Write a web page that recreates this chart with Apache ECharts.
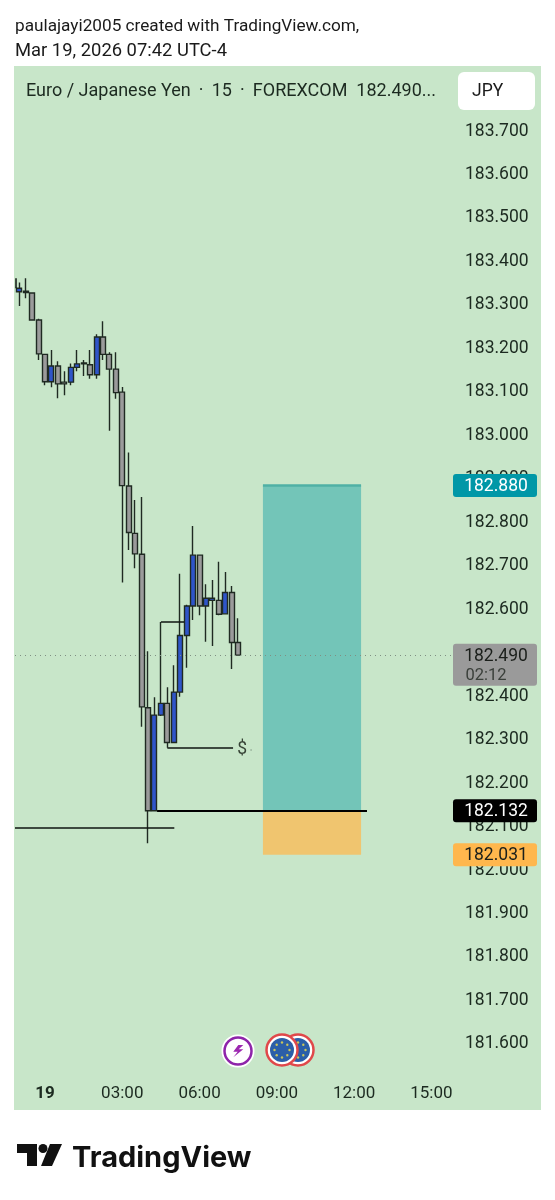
<!DOCTYPE html>
<html>
<head>
<meta charset="utf-8">
<title>EUR/JPY 15</title>
<style>
  html, body { margin: 0; padding: 0; background: #fff; }
  #chart { width: 555px; height: 1200px; }
</style>
<script src="https://cdn.jsdelivr.net/npm/echarts@6/dist/echarts.min.js"></script>
</head>
<body>
<div id="chart"></div>
<script>
// bar time in hours from midnight of the 19th, one bar per 15 minutes
var barHours = [-1, -0.75, -0.5, -0.25, 0, 0.25, 0.5, 0.75, 1, 1.25, 1.5, 1.75, 2, 2.25, 2.5, 2.75, 3, 3.25,
    3.5, 3.75, 4, 4.25, 4.5, 4.75, 5, 5.25, 5.5, 5.75, 6, 6.25, 6.5, 6.75, 7, 7.25, 7.5];
var opens = [183.326, 183.327, 183.323, 183.261, 183.182, 183.119, 183.155, 183.118, 183.118, 183.152, 183.162,
    183.158, 183.135, 183.222, 183.182, 183.148, 183.095, 182.879, 182.770, 182.722, 182.369, 182.132, 182.352,
    182.379, 182.289, 182.405, 182.535, 182.603, 182.720, 182.603, 182.616, 182.616, 182.585, 182.634, 182.519];
var closes = [183.334, 183.324, 183.261, 183.183, 183.119, 183.155, 183.114, 183.114, 183.152, 183.160, 183.160,
    183.135, 183.222, 183.182, 183.148, 183.094, 182.880, 182.772, 182.723, 182.371, 182.132, 182.352, 182.379,
    182.289, 182.405, 182.535, 182.603, 182.720, 182.603, 182.621, 182.621, 182.584, 182.634, 182.519, 182.490];
var lows = [183.293, 183.311, 183.261, 183.169, 183.111, 183.106, 183.081, 183.088, 183.111, 183.143, 183.132,
    183.126, 183.126, 183.169, 183.006, 183.080, 182.657, 182.732, 182.690, 182.325, 182.057, 182.132, 182.350,
    182.277, 182.289, 182.394, 182.461, 182.571, 182.582, 182.521, 182.511, 182.582, 182.585, 182.458, 182.490];
var highs = [183.347, 183.357, 183.325, 183.264, 183.182, 183.192, 183.166, 183.143, 183.161, 183.192, 183.169,
    183.192, 183.228, 183.258, 183.187, 183.187, 183.107, 182.956, 182.847, 182.854, 182.499, 182.393, 182.566,
    182.416, 182.467, 182.677, 182.606, 182.787, 182.720, 182.653, 182.663, 182.705, 182.681, 182.649, 182.575];

var priceTicks = [181.6, 181.7, 181.8, 181.9, 182.0, 182.1, 182.2, 182.3, 182.4, 182.5, 182.6, 182.7, 182.8,
    182.9, 183.0, 183.1, 183.2, 183.3, 183.4, 183.5, 183.6, 183.7];
var timeTicks = [0, 3, 6, 9, 12, 15];
var timeLabels = ["{day|19}", "03:00", "06:00", "09:00", "12:00", "15:00"];

var axisStart = -1.165;
var axisEnd = 15.8;
var priceMin = 181.531;
var priceMax = 183.843;

// drawings: [from hour, from price, to hour, to price]
var thinLines = [
    [axisStart, 182.092, 5.02, 182.092],
    [4.5, 182.566, 5.4, 182.566],
    [4.75, 182.277, 7.3, 182.277],
    [-1.15, 183.357, -1.15, 183.334]
];
var entryLine = [4.35, 182.132, 12.5, 182.132];
var lastPrice = 182.490;
var targetPrice = 182.880;
var entryPrice = 182.132;
var stopPrice = 182.031;
var boxStart = 8.46;
var boxEnd = 12.27;

var tagPrices = [182.880, 182.490, 182.132, 182.031];
var tagLabels = ["182.880", "182.490", "182.132", "182.031"];
var tagSubLabels = ["", "02:12", "", ""];
var tagColors = ["#0097a7", "#9a9a9a", "#000000", "#ffb74d"];
var tagTextColors = ["#ffffff", "#1b1f1b", "#ffffff", "#1b1f1b"];

var fontName = "Roboto, 'Noto Sans', sans-serif";
var textColor = "#1c2a20";

var candleData = barHours.map(function (h, i) {
    return [h, opens[i], closes[i], lows[i], highs[i]];
});

function drawingLine(p, color, width, type) {
    return [
        { coord: [p[0], p[1]], lineStyle: { color: color, width: width, type: type || "solid" } },
        { coord: [p[2], p[3]] }
    ];
}

// price tag on the right scale, the one with a countdown is taller
function renderTag(params, api) {
    var i = params.dataIndex;
    var pt = api.coord([api.value(0), api.value(1)]);
    var hasSub = tagSubLabels[i] !== "";
    var top = pt[1] - 11.5;
    var height = hasSub ? 42 : 23;
    var children = [
        { type: "rect", shape: { x: pt[0] + 1, y: top, width: 84, height: height, r: 3 }, style: { fill: tagColors[i] } },
        {
            type: "text",
            style: {
                x: pt[0] + 44, y: pt[1] + 1, text: tagLabels[i], align: "center", verticalAlign: "middle",
                font: "17.5px " + fontName, fill: tagTextColors[i]
            }
        }
    ];
    if (hasSub) {
        children.push({
            type: "text",
            style: {
                x: pt[0] + 34, y: pt[1] + 21, text: tagSubLabels[i], align: "center", verticalAlign: "middle",
                font: "16.5px " + fontName, fill: "#3a3f3a"
            }
        });
    }
    return { type: "group", children: children };
}

// ロゴとアイコン
function euFlag(cx, cy, z) {
    var parts = [
        { type: "circle", z: z, shape: { cx: cx, cy: cy, r: 15.5 }, style: { fill: "#ffffff", stroke: "#e0484a", lineWidth: 2.5 } },
        { type: "circle", z: z, shape: { cx: cx, cy: cy, r: 12 }, style: { fill: "#2b5ea8" } }
    ];
    for (var i = 0; i < 8; i++) {
        var a = i * Math.PI / 4;
        parts.push({
            type: "circle", z: z,
            shape: { cx: cx + Math.cos(a) * 7.5, cy: cy + Math.sin(a) * 7.5, r: 1.2 },
            style: { fill: "#c9c65a" }
        });
    }
    return parts;
}

var graphics = [
    { type: "rect", z: -10, shape: { x: 14, y: 66, width: 527, height: 1044 }, style: { fill: "#c8e6c9" } },
    { type: "text", z: 20, x: 15, y: 26.5, style: { text: "paulajayi2005 created with TradingView.com,", font: "17.2px " + fontName, fill: "#1a1a1a", textVerticalAlign: "middle" } },
    { type: "text", z: 20, x: 15, y: 51, style: { text: "Mar 19, 2026 07:42 UTC-4", font: "18.4px " + fontName, fill: "#1a1a1a", textVerticalAlign: "middle" } },
    { type: "text", z: 20, x: 26, y: 91, style: { text: "Euro / Japanese Yen \u2009·\u2009 15 \u2009·\u2009 FOREXCOM  182.490...", font: "18px " + fontName, fill: textColor, textVerticalAlign: "middle" } },
    { type: "rect", z: 20, shape: { x: 458, y: 72, width: 77, height: 38, r: 6 }, style: { fill: "#ffffff" } },
    { type: "text", z: 21, x: 472, y: 92, style: { text: "JPY", font: "17.5px " + fontName, fill: "#1a1a1a", textVerticalAlign: "middle" } },
    { type: "circle", z: 20, shape: { cx: 238, cy: 1051, r: 15.5 }, style: { fill: "#ffffff", stroke: "#ffffff", lineWidth: 2 } },
    { type: "circle", z: 20, shape: { cx: 238, cy: 1051, r: 13.5 }, style: { fill: "#ffffff", stroke: "#8e24aa", lineWidth: 2.5 } },
    { type: "polygon", z: 21, shape: { points: [[238.3, 1045], [233.3, 1051.7], [237.7, 1051.7], [233.3, 1057.3], [243.3, 1049.3], [238.7, 1049.3], [243.3, 1045]] }, style: { fill: "#9c27b0" } },
    { type: "polygon", z: 20, shape: { points: [[17, 1144], [37, 1144], [37, 1166], [27, 1166], [27, 1153], [17, 1153]] }, style: { fill: "#111111" } },
    { type: "circle", z: 20, shape: { cx: 43, cy: 1148.5, r: 4.5 }, style: { fill: "#111111" } },
    { type: "polygon", z: 20, shape: { points: [[50, 1144], [62, 1144], [52, 1166], [41, 1166]] }, style: { fill: "#111111" } },
    { type: "text", z: 20, x: 72, y: 1158, style: { text: "TradingView", font: "700 29px Inter, " + fontName, fill: "#111111", textVerticalAlign: "middle" } }
].concat(euFlag(298, 1050, 20), euFlag(282, 1050, 21));

var chart = echarts.init(document.getElementById("chart"), null, { renderer: "canvas" });
chart.setOption({
    animation: false,
    backgroundColor: "#ffffff",
    grid: { left: 15, right: 103, top: 67, height: 1005 },
    xAxis: {
        type: "value",
        min: axisStart,
        max: axisEnd,
        splitLine: { show: false },
        axisLine: { show: false },
        axisTick: { show: false },
        axisLabel: {
            customValues: timeTicks,
            margin: 13,
            fontFamily: fontName,
            fontSize: 17,
            color: textColor,
            formatter: function (v) { return timeLabels[timeTicks.indexOf(v)]; },
            rich: { day: { fontFamily: fontName, fontSize: 17, fontWeight: "bold", color: textColor } }
        }
    },
    yAxis: {
        type: "value",
        position: "right",
        min: priceMin,
        max: priceMax,
        splitLine: { show: false },
        axisLine: { show: false },
        axisTick: { show: false },
        axisLabel: {
            customValues: priceTicks,
            margin: 13,
            verticalAlign: "top",
            lineHeight: 4,
            fontFamily: fontName,
            fontSize: 17.5,
            color: textColor,
            formatter: function (v) { return v.toFixed(3); }
        }
    },
    series: [
        {
            type: "candlestick",
            data: candleData,
            barWidth: 5.5,
            itemStyle: {
                color: "#2f55c9",
                color0: "#9b9b9b",
                borderColor: "#1f2a22",
                borderColor0: "#1f2a22",
                borderWidth: 1.4
            },
            markArea: {
                silent: true,
                data: [
                    [{ coord: [boxStart, targetPrice], itemStyle: { color: "#73c5b8", opacity: 1 } }, { coord: [boxEnd, entryPrice] }],
                    [{ coord: [boxStart, entryPrice], itemStyle: { color: "#f0c56f", opacity: 1 } }, { coord: [boxEnd, stopPrice] }]
                ]
            },
            markLine: {
                silent: true,
                symbol: "none",
                label: { show: false },
                data: thinLines.map(function (p) {
                    return drawingLine(p, "#0f1510", 1.5);
                }).concat([
                    drawingLine(entryLine, "#000000", 2),
                    drawingLine([axisStart, lastPrice, axisEnd, lastPrice], "#7f8f82", 1, [1, 4]),
                    drawingLine([boxStart, targetPrice, boxEnd, targetPrice], "#4fb0a5", 2.5)
                ])
            }
        },
        {
            // $ note at the end of the line
            type: "scatter",
            silent: true,
            symbolSize: 0,
            clip: false,
            data: [[7.65, 182.272]],
            label: {
                show: true,
                position: "inside",
                formatter: "$",
                fontFamily: fontName,
                fontSize: 17.5,
                color: "#10180f"
            }
        },
        {
            type: "scatter",
            silent: true,
            symbol: "circle",
            symbolSize: 1.5,
            itemStyle: { color: "#6f7f72" },
            data: [[8, 182.272]]
        },
        {
            type: "custom",
            silent: true,
            z: 10,
            clip: false,
            renderItem: renderTag,
            data: tagPrices.map(function (p) { return [axisEnd, p]; })
        }
    ],
    graphic: { elements: graphics }
});
</script>
</body>
</html>
